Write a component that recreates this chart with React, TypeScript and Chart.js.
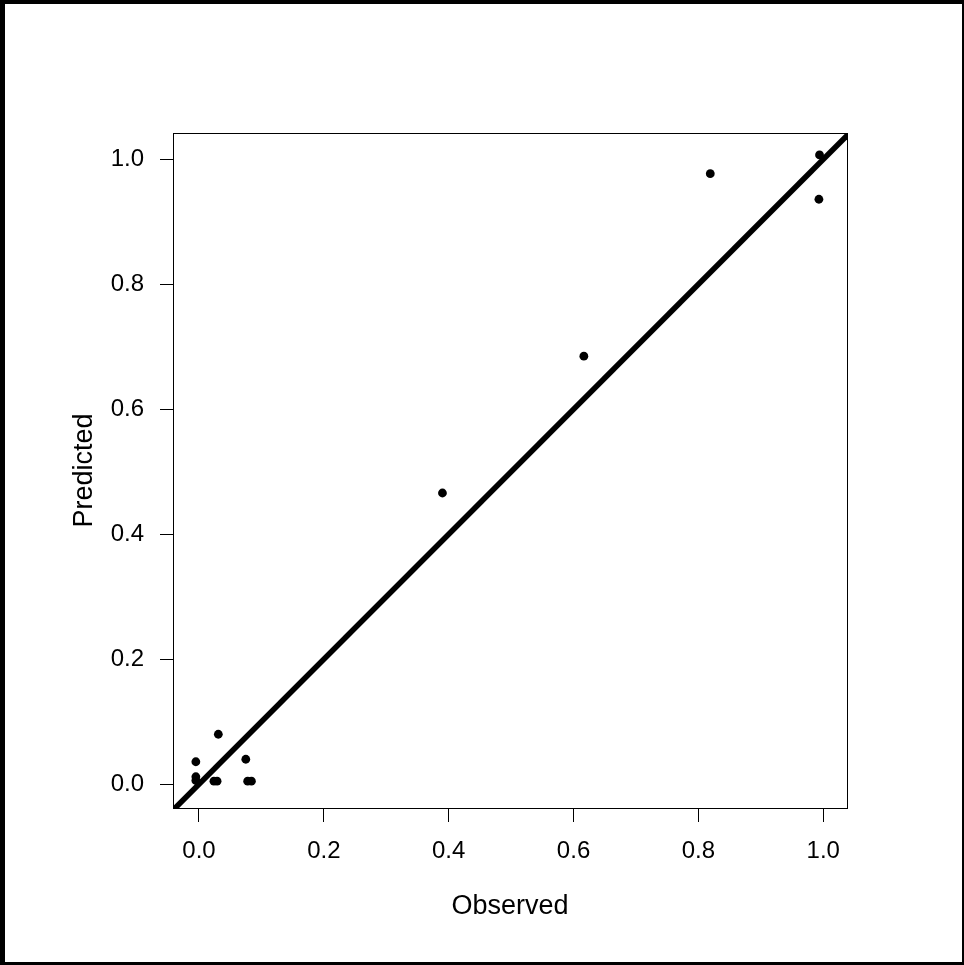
import React, { useEffect, useRef } from "react";
import { Chart, registerables } from "chart.js";

Chart.register(...registerables);

const observed = [0.031, -0.005, -0.005, -0.005, 0.024, 0.029, 0.075, 0.078, 0.084, 0.39, 0.6165, 0.819, 0.994, 0.993];
const predicted = [0.08, 0.036, 0.006, 0.012, 0.005, 0.005, 0.04, 0.005, 0.005, 0.466, 0.685, 0.977, 1.007, 0.936];
const tickValues = [0, 0.2, 0.4, 0.6, 0.8, 1.0];
const lineEnds = [-0.1, 1.1];
const xTitle = "Observed";
const yTitle = "Predicted";

const framePlugin = {
  id: "framePlugin",
  afterDraw(chart: any) {
    const { ctx, chartArea, width, height } = chart;
    ctx.save();
    ctx.strokeStyle = "#000";
    ctx.lineWidth = 1;
    ctx.strokeRect(chartArea.left + 0.5, chartArea.top + 0.5, chartArea.right - chartArea.left, chartArea.bottom - chartArea.top);
    ctx.fillStyle = "#000";
    ctx.fillRect(0, 0, 5, height);
    ctx.fillRect(0, 0, width, 4);
    ctx.fillRect(width - 2, 0, 2, height);
    ctx.fillRect(0, height - 3, width, 3);
    ctx.restore();
  },
};

export default function App() {
  const ref = useRef<HTMLCanvasElement>(null);
  useEffect(() => {
    if (!ref.current) return;
    const pts = observed.map((x, i) => ({ x, y: predicted[i] }));
    const fontFamily = "'Liberation Sans', Arial, sans-serif";
    const chart = new Chart(ref.current, {
      type: "scatter",
      data: {
        datasets: [
          {
            type: "line",
            data: lineEnds.map((v) => ({ x: v, y: v })),
            borderColor: "#000",
            borderWidth: 5.5,
            pointRadius: 0,
            clip: 0,
          } as any,
          {
            data: pts,
            backgroundColor: "#000",
            borderColor: "#000",
            borderWidth: 0,
            pointRadius: 4.4,
            pointHoverRadius: 4.4,
          },
        ],
      },
      options: {
        responsive: false,
        animation: false,
        devicePixelRatio: 1,
        layout: { padding: { left: 0, top: 133, right: 117, bottom: 0 } },
        plugins: { legend: { display: false }, tooltip: { enabled: false } },
        scales: {
          x: {
            type: "linear",
            min: -0.0416,
            max: 1.038,
            afterBuildTicks: (s: any) => {
              s.ticks = tickValues.map((v) => ({ value: v }));
            },
            afterFit: (s: any) => {
              s.height = 157;
            },
            grid: { display: true, drawOnChartArea: false, drawTicks: true, tickLength: 14, color: "#000", lineWidth: 1 },
            border: { display: true, color: "#000", width: 1 },
            ticks: {
              color: "#000",
              padding: 15,
              font: { family: fontFamily, size: 24 },
              callback: (v: any) => Number(v).toFixed(1),
              maxRotation: 0,
            },
            title: {
              display: true,
              text: xTitle,
              color: "#000",
              font: { family: fontFamily, size: 27 },
              padding: { top: 0, bottom: 42 },
            },
          },
          y: {
            type: "linear",
            min: -0.038,
            max: 1.042,
            afterBuildTicks: (s: any) => {
              s.ticks = tickValues.map((v) => ({ value: v }));
            },
            afterFit: (s: any) => {
              s.width = 173;
            },
            grid: { display: true, drawOnChartArea: false, drawTicks: true, tickLength: 13, color: "#000", lineWidth: 1 },
            border: { display: true, color: "#000", width: 1 },
            ticks: {
              color: "#000",
              padding: 16,
              font: { family: fontFamily, size: 24 },
              callback: (v: any) => Number(v).toFixed(1),
            },
            title: {
              display: true,
              text: yTitle,
              color: "#000",
              font: { family: fontFamily, size: 27 },
              padding: { top: 68, bottom: 0 },
            },
          },
        },
      },
      plugins: [framePlugin],
    });
    return () => chart.destroy();
  }, []);
  return (
    <div style={{ position: "fixed", left: 0, top: 0, width: 964, height: 965, background: "#fff" }}>
      <canvas ref={ref} width={964} height={965} />
    </div>
  );
}
